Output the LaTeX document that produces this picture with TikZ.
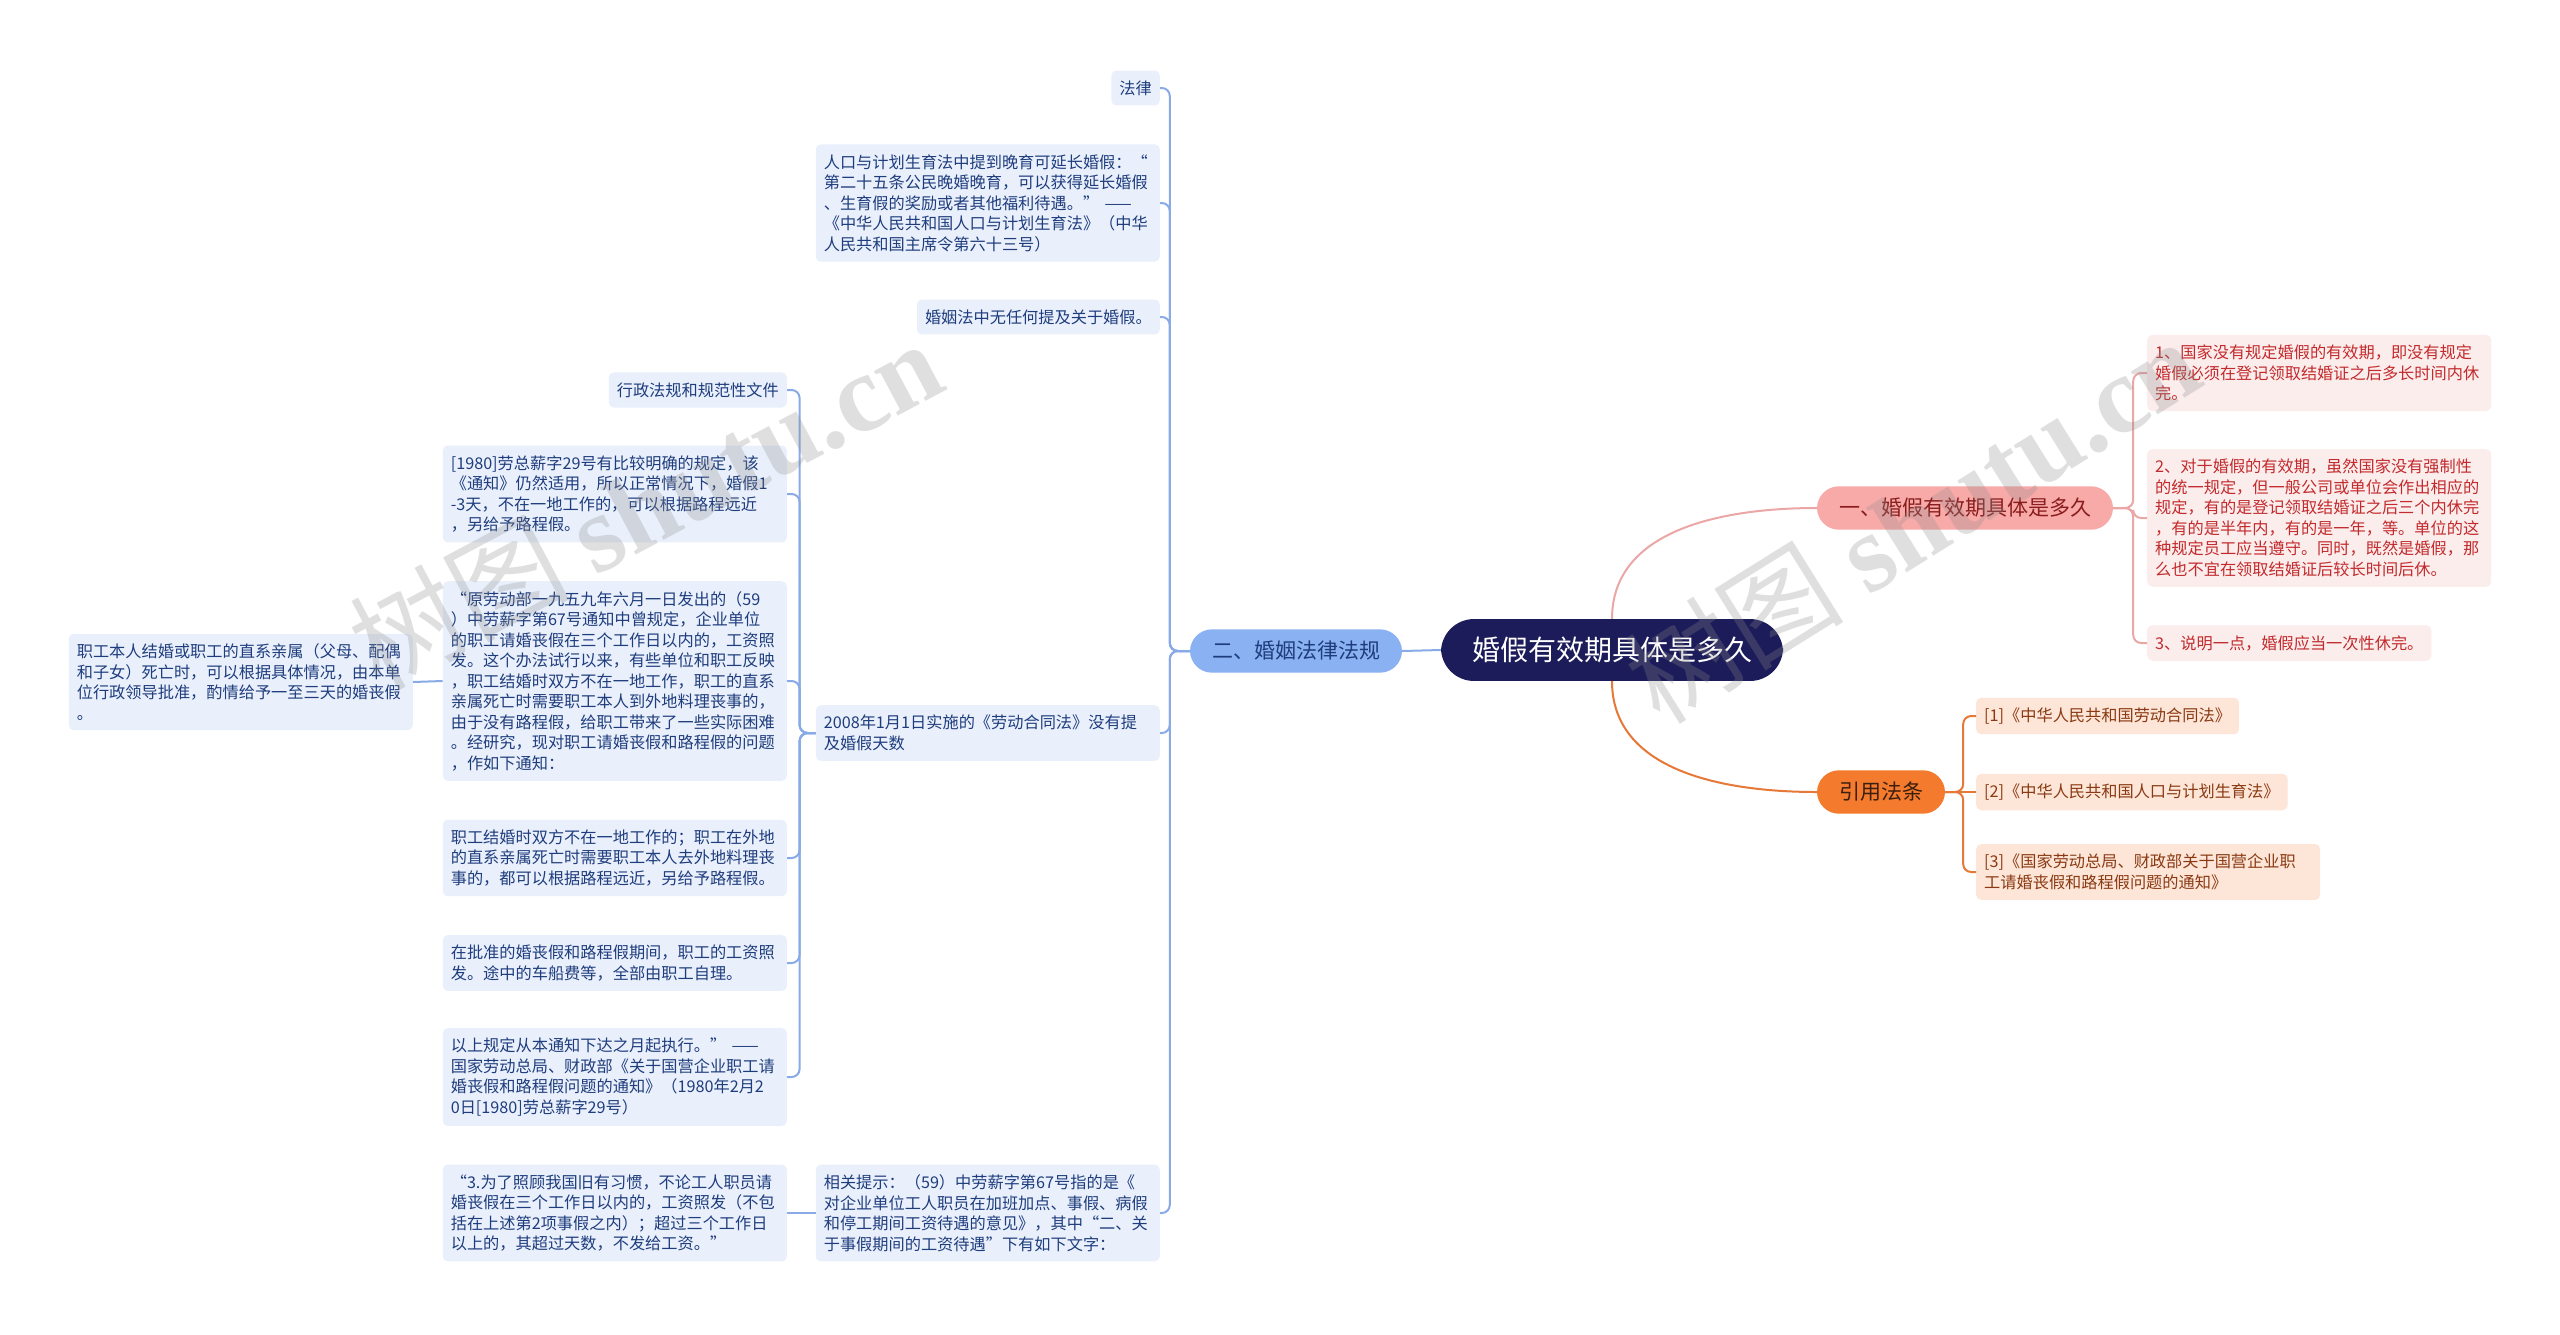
\documentclass[tikz,border=0pt]{standalone}
\usepackage{fontspec}
\setmainfont{Noto Sans CJK SC}
\newfontfamily\wmserif{Liberation Serif}
\usetikzlibrary{positioning}
\definecolor{rootfill}{HTML}{1D1C5A}
\definecolor{brfill}{HTML}{8AB2F3}
\definecolor{btext}{HTML}{1F3D7D}
\definecolor{bleaffill}{HTML}{E9F0FC}
\definecolor{blueln}{HTML}{88AAE6}
\definecolor{pkfill}{HTML}{F8AAA8}
\definecolor{pktext}{HTML}{8A1D1D}
\definecolor{pleaffill}{HTML}{FCEDED}
\definecolor{ptext}{HTML}{C22A2C}
\definecolor{pinkln}{HTML}{EBA6A6}
\definecolor{ogfill}{HTML}{F47A2E}
\definecolor{ogtext}{HTML}{3A1E0E}
\definecolor{oleaffill}{HTML}{FDE5D8}
\definecolor{otext}{HTML}{8A3A12}
\definecolor{orangeln}{HTML}{E67838}
\definecolor{wmgray}{HTML}{8C8C8C}
\tikzset{
  leaf/.style={rounded corners=5pt, align=left, inner xsep=8pt, inner ysep=10pt, font=\fontsize{16.2}{20.5}\selectfont},
  wrap/.style={text width=328pt},
  bleaf/.style={leaf, fill=bleaffill, text=btext},
  pleaf/.style={leaf, fill=pleaffill, text=ptext},
  oleaf/.style={leaf, fill=oleaffill, text=otext},
  topic/.style={rounded corners=22pt, inner xsep=22pt, inner ysep=12pt, font=\fontsize{21}{25}\selectfont},
  rootbox/.style={fill=rootfill, text=white, rounded corners=33pt, inner xsep=31pt, inner ysep=18pt, font=\fontsize{28}{32}\selectfont},
  bline/.style={draw=blueln, line width=2pt, rounded corners=8pt},
  pline/.style={draw=pinkln, line width=2pt, rounded corners=8pt},
  oline/.style={draw=orangeln, line width=2pt, rounded corners=8pt},
  wm/.style={text=wmgray, opacity=0.27, font=\fontsize{110}{120}\selectfont},
}

\begin{document}
\begin{tikzpicture}[x=1pt, y=-1pt]
  \useasboundingbox[fill=white] (0,0) rectangle (2560,1334);

  \node[rootbox] (root) at (1612,650) {婚假有效期具体是多久};
  \node[topic, fill=brfill, text=btext] (br) at (1296,651) {二、婚姻法律法规};
  \node[topic, fill=pkfill, text=pktext] (pk) at (1965,508) {一、婚假有效期具体是多久};
  \node[topic, fill=ogfill, text=ogtext] (og) at (1881,792) {引用法条};

  \node[bleaf, anchor=east] (b1) at (1160,88) {法律};
  \node[bleaf, wrap, anchor=east] (b2) at (1160,203) {人口与计划生育法中提到晚育可延长婚假：“\\第二十五条公民晚婚晚育，可以获得延长婚假\\、生育假的奖励或者其他福利待遇。” ——\\《中华人民共和国人口与计划生育法》（中华\\人民共和国主席令第六十三号）};
  \node[bleaf, anchor=east] (b3) at (1160,317) {婚姻法中无任何提及关于婚假。};
  \node[bleaf, wrap, anchor=east] (b5) at (1160,733) {2008年1月1日实施的《劳动合同法》没有提\\及婚假天数};
  \node[bleaf, wrap, anchor=east] (b6) at (1160,1213) {相关提示：（59）中劳薪字第67号指的是《\\对企业单位工人职员在加班加点、事假、病假\\和停工期间工资待遇的意见》，其中“二、关\\于事假期间的工资待遇”下有如下文字：};

  \node[bleaf, anchor=east] (c1) at (787,390) {行政法规和规范性文件};
  \node[bleaf, wrap, anchor=east] (c2) at (787,494) {[1980]劳总薪字29号有比较明确的规定，该\\《通知》仍然适用，所以正常情况下，婚假1\\-3天，不在一地工作的，可以根据路程远近\\，另给予路程假。};
  \node[bleaf, wrap, anchor=east] (c3) at (787,681) {“原劳动部一九五九年六月一日发出的（59\\）中劳薪字第67号通知中曾规定，企业单位\\的职工请婚丧假在三个工作日以内的，工资照\\发。这个办法试行以来，有些单位和职工反映\\，职工结婚时双方不在一地工作，职工的直系\\亲属死亡时需要职工本人到外地料理丧事的，\\由于没有路程假，给职工带来了一些实际困难\\。经研究，现对职工请婚丧假和路程假的问题\\，作如下通知：};
  \node[bleaf, wrap, anchor=east] (c4) at (787,858) {职工结婚时双方不在一地工作的；职工在外地\\的直系亲属死亡时需要职工本人去外地料理丧\\事的，都可以根据路程远近，另给予路程假。};
  \node[bleaf, wrap, anchor=east] (c5) at (787,963) {在批准的婚丧假和路程假期间，职工的工资照\\发。途中的车船费等，全部由职工自理。};
  \node[bleaf, wrap, anchor=east] (c6) at (787,1077) {以上规定从本通知下达之月起执行。” ——\\国家劳动总局、财政部《关于国营企业职工请\\婚丧假和路程假问题的通知》（1980年2月2\\0日[1980]劳总薪字29号）};
  \node[bleaf, wrap, anchor=east] (c7) at (787,1213) {“3.为了照顾我国旧有习惯，不论工人职员请\\婚丧假在三个工作日以内的，工资照发（不包\\括在上述第2项事假之内）；超过三个工作日\\以上的，其超过天数，不发给工资。”};
  \node[bleaf, wrap, anchor=east] (d1) at (413,682) {职工本人结婚或职工的直系亲属（父母、配偶\\和子女）死亡时，可以根据具体情况，由本单\\位行政领导批准，酌情给予一至三天的婚丧假\\。};

  \node[pleaf, wrap, anchor=west] (r1) at (2147,373) {1、国家没有规定婚假的有效期，即没有规定\\婚假必须在登记领取结婚证之后多长时间内休\\完。};
  \node[pleaf, wrap, anchor=west] (r2) at (2147,518) {2、对于婚假的有效期，虽然国家没有强制性\\的统一规定，但一般公司或单位会作出相应的\\规定，有的是登记领取结婚证之后三个内休完\\，有的是半年内，有的是一年，等。单位的这\\种规定员工应当遵守。同时，既然是婚假，那\\么也不宜在领取结婚证后较长时间后休。};
  \node[pleaf, anchor=west] (r3) at (2147,643) {3、说明一点，婚假应当一次性休完。};

  \node[oleaf, anchor=west] (o1) at (1976,716) {[1]《中华人民共和国劳动合同法》};
  \node[oleaf, anchor=west] (o2) at (1976,792) {[2]《中华人民共和国人口与计划生育法》};
  \node[oleaf, wrap, anchor=west] (o3) at (1976,872) {[3]《国家劳动总局、财政部关于国营企业职\\工请婚丧假和路程假问题的通知》};

  \draw[bline] (root.west) -- (br.east);
  \foreach \n in {b1,b2,b3,b5,b6}
    \draw[bline] (br.west) -- ++(-20,0) |- (\n.east);
  \foreach \n in {c1,c2,c3,c4,c5,c6}
    \draw[bline] (b5.west) -- ++(-16,0) |- (\n.east);
  \draw[bline] (c3.west) -- (d1.east);
  \draw[bline] (b6.west) -- (c7.east);

  \draw[pline] (root.north) to[out=90, in=180] (pk.west);
  \foreach \n in {r1,r2,r3}
    \draw[pline] (pk.east) -- ++(20,0) |- (\n.west);

  \draw[oline] (root.south) to[out=-90, in=180] (og.west);
  \foreach \n in {o1,o3}
    \draw[oline] (og.east) -- ++(18,0) |- (\n.west);
  \draw[oline] (og.east) -- (o2.west);

  \node[wm, rotate=28] (wm1) at (645,503) {树图 {\wmserif\bfseries shutu.cn}};
  \node[wm, rotate=32] (wm2) at (1912,520) {树图 {\wmserif\bfseries shutu.cn}};
\end{tikzpicture}
\end{document}
